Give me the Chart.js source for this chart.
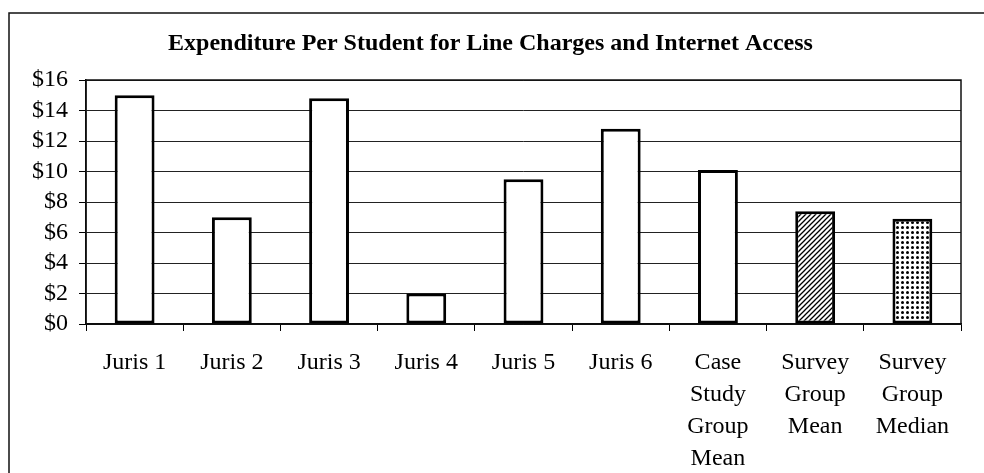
<!DOCTYPE html>
<html lang="en">
<head>
  <meta charset="UTF-8">
  <title>Expenditure Per Student</title>
  <script src="https://cdn.jsdelivr.net/npm/chart.js@4.4.0/dist/chart.umd.min.js"></script>
  <style>
    * { box-sizing: border-box; margin: 0; padding: 0; }
    html, body { width: 984px; height: 473px; background: #fff; overflow: hidden; }
    .wrap { position: relative; width: 984px; height: 473px; }
  </style>
</head>
<body>
  <div class="wrap"><canvas id="chart" width="984" height="473"></canvas></div>

  <script>
    const categories = [
      'Juris 1', 'Juris 2', 'Juris 3', 'Juris 4', 'Juris 5', 'Juris 6',
      ['Case', 'Study', 'Group', 'Mean'],
      ['Survey', 'Group', 'Mean'],
      ['Survey', 'Group', 'Median']
    ];
    const spending = [15.0, 7.0, 14.8, 2.0, 9.5, 12.8, 10.1, 7.4, 6.9];
    const yTicks = [0, 2, 4, 6, 8, 10, 12, 14, 16];

    const serif = "'Liberation Serif', 'Times New Roman', serif";

    // fill patterns for the two survey bars
    function hatch() {
      const c = document.createElement('canvas');
      c.width = 5; c.height = 5;
      const g = c.getContext('2d');
      g.fillStyle = '#fff'; g.fillRect(0, 0, 5, 5);
      g.strokeStyle = '#000'; g.lineWidth = 1.3;
      g.beginPath();
      g.moveTo(-1, 6); g.lineTo(6, -1);
      g.moveTo(-1, 1); g.lineTo(1, -1);
      g.moveTo(4, 6); g.lineTo(6, 4);
      g.stroke();
      return g.createPattern(c, 'repeat');
    }
    function dots() {
      const c = document.createElement('canvas');
      c.width = 5; c.height = 5;
      const g = c.getContext('2d');
      g.fillStyle = '#fff'; g.fillRect(0, 0, 5, 5);
      g.fillStyle = '#000';
      g.beginPath(); g.arc(2.5, 2.5, 1.5, 0, Math.PI * 2); g.fill();
      return g.createPattern(c, 'repeat');
    }
    const fills = spending.map((v, i) => i === 7 ? hatch() : i === 8 ? dots() : '#ffffff');

    const frame = {
      id: 'frame',
      beforeDraw(chart) {
        const ctx = chart.ctx;
        ctx.save();
        ctx.strokeStyle = '#111'; ctx.lineWidth = 1.5;
        ctx.beginPath();
        ctx.moveTo(9, 473); ctx.lineTo(9, 13); ctx.lineTo(984, 13);
        ctx.stroke();
        ctx.restore();
      },
      beforeDatasetsDraw(chart) {
        const a = chart.chartArea, ctx = chart.ctx;
        ctx.save();
        ctx.strokeStyle = '#111'; ctx.lineWidth = 1.5;
        ctx.strokeRect(a.left, a.top, a.right - a.left, a.bottom - a.top);
        ctx.restore();
      }
    };

    new Chart(document.getElementById('chart'), {
      type: 'bar',
      data: {
        labels: categories,
        datasets: [{
          data: spending,
          backgroundColor: fills,
          borderColor: '#000',
          borderWidth: 3,
          borderSkipped: false,
          categoryPercentage: 1,
          barPercentage: 0.41
        }]
      },
      options: {
        responsive: false,
        animation: false,
        layout: { padding: { left: 20, right: 23, top: 0, bottom: 0 } },
        plugins: {
          legend: { display: false },
          tooltip: { enabled: false },
          title: {
            display: true,
            text: 'Expenditure Per Student for Line Charges and Internet Access',
            color: '#000',
            font: { family: serif, size: 24, weight: 'bold', lineHeight: 1.2 },
            padding: { top: 29, bottom: 22.2 }
          }
        },
        scales: {
          x: {
            grid: { offset: true, drawOnChartArea: false, drawTicks: true, tickLength: 7, tickColor: '#000', tickWidth: 1 },
            border: { display: true, color: '#000', width: 1.5 },
            ticks: {
              color: '#000', padding: 16, maxRotation: 0, autoSkip: false,
              font: { family: serif, size: 24, lineHeight: 1.333 }
            },
            afterFit(scale) { scale.height = 149; }
          },
          y: {
            min: 0, max: 16,
            afterBuildTicks(scale) { scale.ticks = yTicks.map(v => ({ value: v })); },
            grid: { color: '#222', lineWidth: 1, tickLength: 7, tickColor: '#000' },
            border: { display: true, color: '#000', width: 1.5 },
            ticks: {
              color: '#000', padding: 11, autoSkip: false,
              font: { family: serif, size: 24, lineHeight: 1.2 },
              callback: v => '$' + v
            },
            afterFit(scale) { scale.width = 66; }
          }
        }
      },
      plugins: [frame]
    });
  </script>
</body>
</html>
